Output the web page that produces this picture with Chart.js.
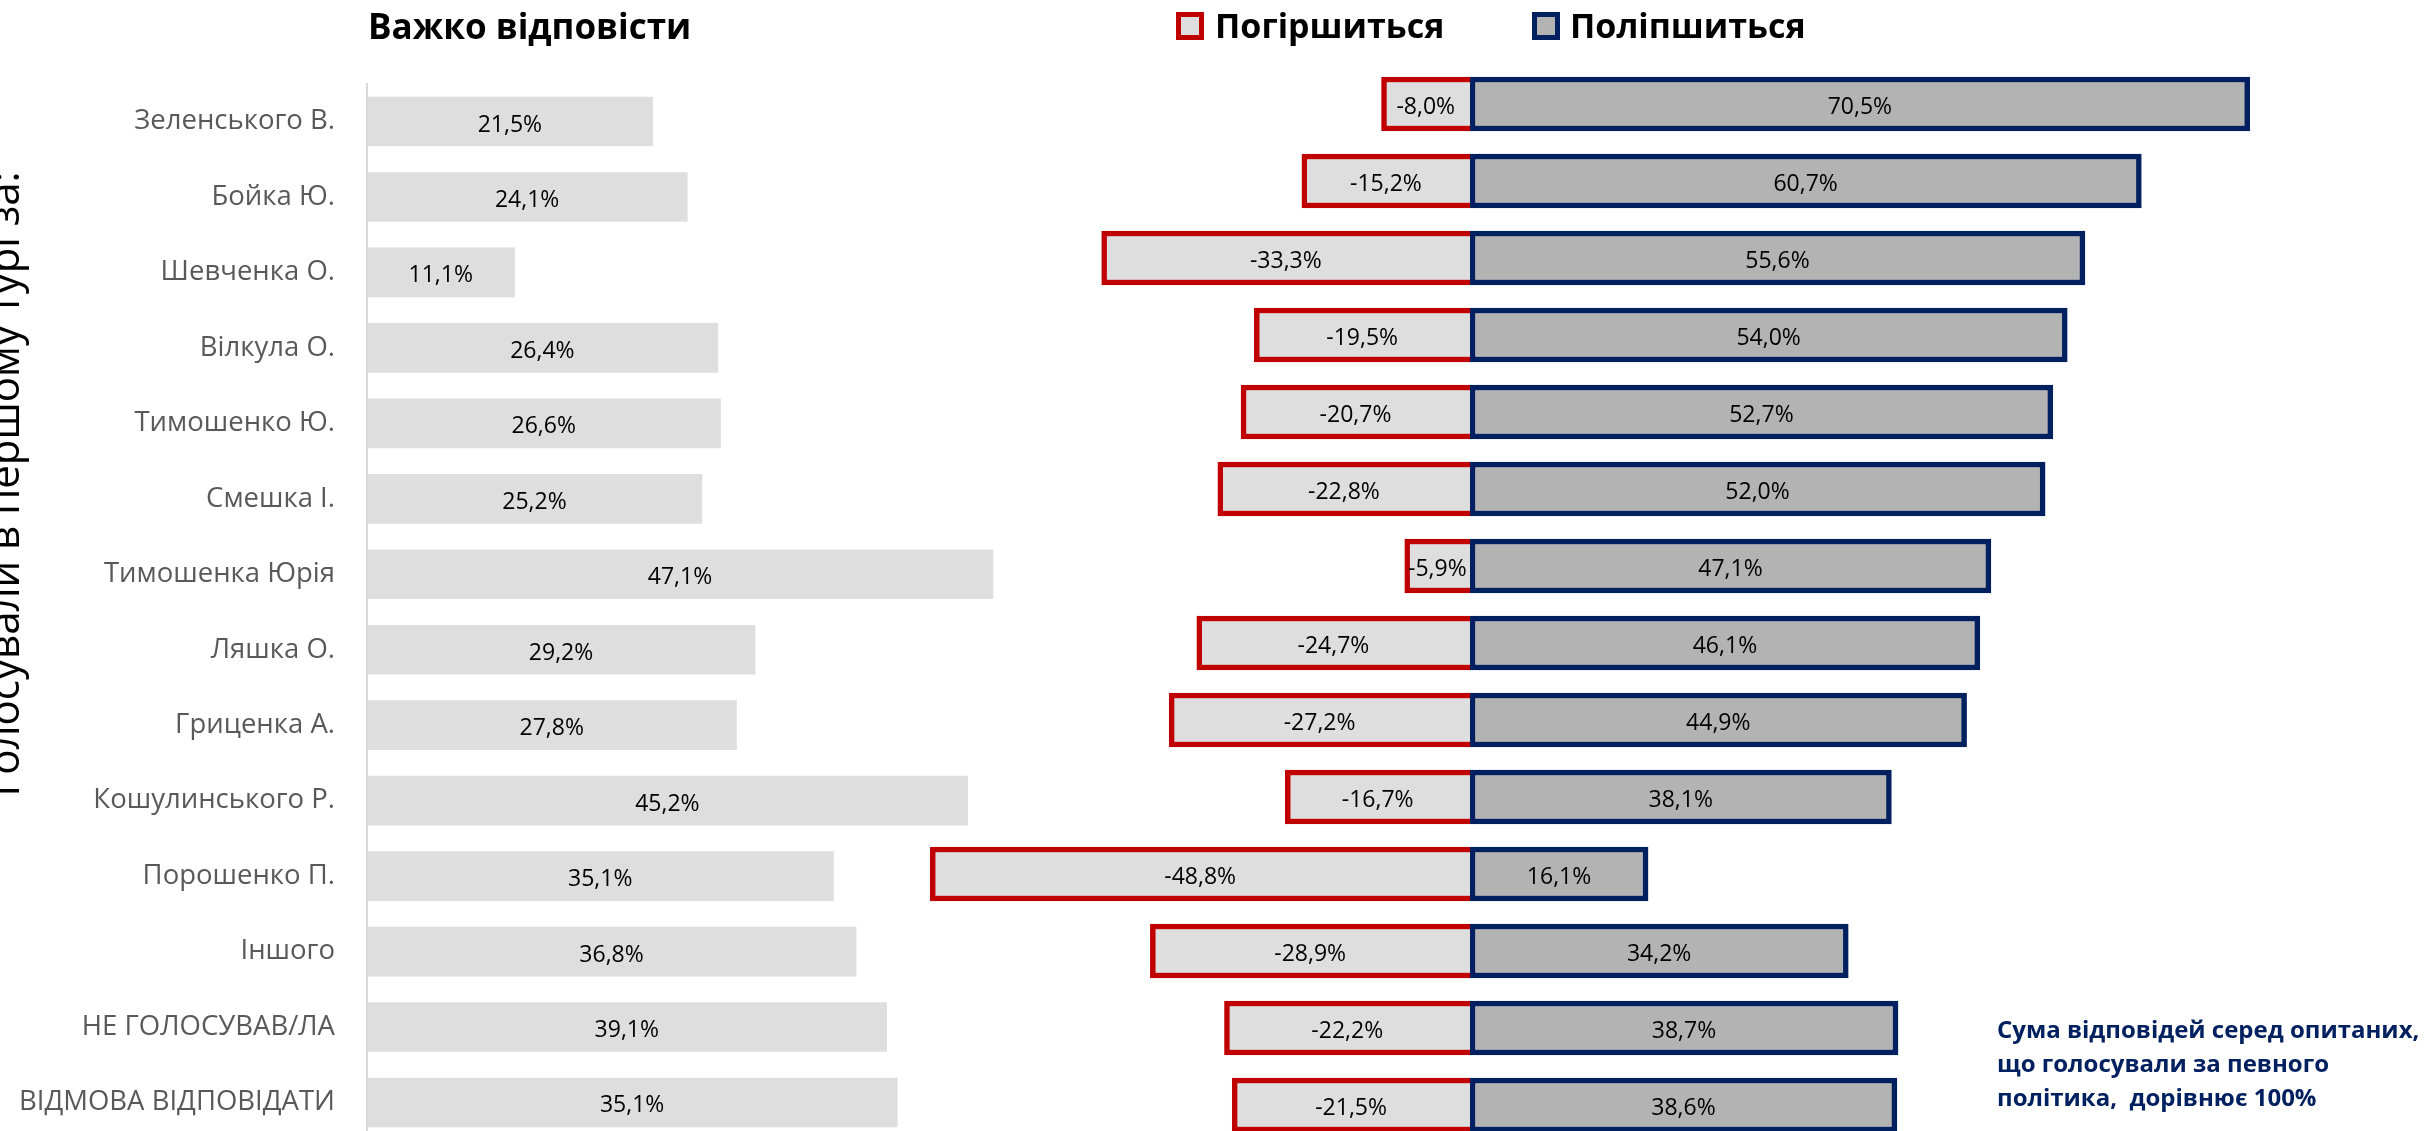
<!DOCTYPE html>
<html>
<head>
<meta charset="utf-8">
<script src="https://cdn.jsdelivr.net/npm/chart.js@4.4.1/dist/chart.umd.min.js"></script>
<style>
html,body{margin:0;padding:0;overflow:hidden;background:#fff;width:2427px;height:1131px;}
.layer{position:absolute;left:0;top:0;width:2427px;height:1150px;}
canvas{display:block;}
</style>
</head>
<body>
<div class="layer"><canvas id="leftChart" width="2427" height="1150"></canvas></div>
<div class="layer"><canvas id="rightChart" width="2427" height="1150"></canvas></div>
<script>
// ---------- data ----------
const categories = [
  "Зеленського В.", "Бойка Ю.", "Шевченка О.", "Вілкула О.", "Тимошенко Ю.",
  "Смешка І.", "Тимошенка Юрія", "Ляшка О.", "Гриценка А.", "Кошулинського Р.",
  "Порошенко П.", "Іншого", "НЕ ГОЛОСУВАВ/ЛА", "ВІДМОВА ВІДПОВІДАТИ"
];
// bar lengths as drawn in the picture
const hardToSay = [21.5, 24.1, 11.1, 26.4, 26.6, 25.2, 47.1, 29.2, 27.8, 45.2, 35.1, 36.8, 39.1, 39.9];
// values printed on the bars (the last printed label differs from its bar length in the original)
const hardToSayPrinted = [21.5, 24.1, 11.1, 26.4, 26.6, 25.2, 47.1, 29.2, 27.8, 45.2, 35.1, 36.8, 39.1, 35.1];
const worse     = [-8.0, -15.2, -33.3, -19.5, -20.7, -22.8, -5.9, -24.7, -27.2, -16.7, -48.8, -28.9, -22.2, -21.5];
const better    = [70.5, 60.7, 55.6, 54.0, 52.7, 52.0, 47.1, 46.1, 44.9, 38.1, 16.1, 34.2, 38.7, 38.6];

const leftTitle = "Важко відповісти";
const axisTitle = "Голосували в першому турі за:";
const seriesNames = ["Погіршиться", "Поліпшиться"];
const noteLines = ["Сума відповідей серед опитаних,", "що голосували за певного", "політика,  дорівнює 100%"];

// ---------- helpers ----------
Chart.defaults.font.family = "'Open Sans', sans-serif";
const W = 2427, H = 1150;
const fmt = v => v.toFixed(1).replace('.', ',') + '%';

const valueLabels = {
  id: 'valueLabels',
  afterDatasetsDraw(chart) {
    const ctx = chart.ctx;
    ctx.save();
    ctx.font = "23px 'Open Sans'";
    ctx.fillStyle = '#000';
    ctx.textAlign = 'center';
    ctx.textBaseline = 'alphabetic';
    chart.data.datasets.forEach((ds, i) => {
      const meta = chart.getDatasetMeta(i);
      const printed = ds.printed || ds.data;
      meta.data.forEach((bar, j) => {
        const p = bar.getProps(['x', 'y', 'base'], true);
        ctx.fillText(fmt(printed[j]), (p.x + p.base) / 2, p.y + 10);
      });
    });
    ctx.restore();
  }
};

const leftDecor = {
  id: 'leftDecor',
  afterDraw(chart) {
    const ctx = chart.ctx;
    ctx.save();
    ctx.fillStyle = '#000';
    ctx.font = "bold 35px 'Open Sans'";
    ctx.textAlign = 'left';
    ctx.textBaseline = 'alphabetic';
    ctx.fillText(leftTitle, chart.chartArea.left + 1, 39);
    ctx.translate(19, 484);
    ctx.rotate(-Math.PI / 2);
    ctx.font = "42px 'Open Sans'";
    ctx.textAlign = 'center';
    ctx.fillText(axisTitle, 0, 0);
    ctx.restore();
  }
};

const rightDecor = {
  id: 'rightDecor',
  afterDraw(chart) {
    const ctx = chart.ctx;
    const ds = chart.data.datasets;
    const items = [{box: 1176, text: 1215}, {box: 1532, text: 1570}];
    ctx.save();
    items.forEach((it, i) => {
      ctx.fillStyle = ds[i].backgroundColor;
      ctx.fillRect(it.box, 12, 28, 28);
      ctx.strokeStyle = ds[i].borderColor;
      ctx.lineWidth = 5;
      ctx.strokeRect(it.box + 2.5, 14.5, 23, 23);
      ctx.fillStyle = '#000';
      ctx.font = "bold 34px 'Open Sans'";
      ctx.textBaseline = 'alphabetic';
      ctx.textAlign = 'left';
      ctx.fillText(ds[i].label, it.text, 38);
    });
    ctx.fillStyle = '#002060';
    ctx.font = "bold 24px 'Open Sans'";
    noteLines.forEach((line, k) => ctx.fillText(line, 1997, 1038 + k * 34));
    ctx.restore();
  }
};

// ---------- left panel: "Важко відповісти" ----------
new Chart(document.getElementById('leftChart'), {
  type: 'bar',
  data: {
    labels: categories,
    datasets: [{
      label: leftTitle,
      data: hardToSay,
      printed: hardToSayPrinted,
      backgroundColor: '#dedede',
      borderWidth: 0,
      barThickness: 49
    }]
  },
  options: {
    indexAxis: 'y',
    responsive: false,
    animation: false,
    layout: { padding: { left: 0, right: W - 1031.5, top: 83.8, bottom: H - 1140.2 } },
    plugins: { legend: { display: false }, tooltip: { enabled: false }, title: { display: false } },
    scales: {
      x: { display: false, min: 0, max: 50 },
      y: {
        grid: { display: false, drawTicks: true, tickLength: 28 },
        border: { display: true, color: '#d9d9d9', width: 2, z: 1 },
        ticks: { color: '#595959', font: { size: 27.5 }, padding: 4 },
        afterFit(s) { s.width = 367; s.paddingTop = 0; s.paddingBottom = 0; }
      }
    }
  },
  plugins: [valueLabels, leftDecor]
});

// ---------- right panel: Погіршиться / Поліпшиться ----------
new Chart(document.getElementById('rightChart'), {
  type: 'bar',
  data: {
    labels: categories,
    datasets: [
      {
        label: seriesNames[0],
        data: worse,
        backgroundColor: '#dedede',
        borderColor: '#c00000',
        borderWidth: 5.5,
        borderSkipped: 'start',
        barThickness: 54
      },
      {
        label: seriesNames[1],
        data: better,
        backgroundColor: '#b3b3b3',
        borderColor: '#002060',
        borderWidth: 5.5,
        borderSkipped: false,
        barThickness: 54
      }
    ]
  },
  options: {
    indexAxis: 'y',
    responsive: false,
    animation: false,
    layout: { padding: { left: 917, right: W - 2354.8, top: 65.5, bottom: H - 1143.5 } },
    plugins: { legend: { display: false }, tooltip: { enabled: false } },
    scales: {
      x: { display: false, min: -50, max: 80, stacked: true },
      y: { display: false, stacked: true }
    }
  },
  plugins: [valueLabels, rightDecor]
});
</script>
</body>
</html>
